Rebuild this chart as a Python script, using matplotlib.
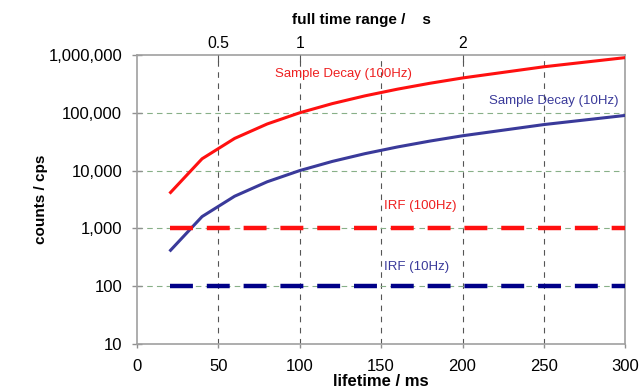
import matplotlib
matplotlib.use("Agg")
import matplotlib.pyplot as plt
from matplotlib.ticker import FuncFormatter, FixedLocator

plt.rcParams['font.family'] = ['Liberation Sans', 'DejaVu Sans']
plt.rcParams['lines.scale_dashes'] = False

# Data
lifetime_ms = [20, 40, 60, 80, 100, 120, 140, 160, 180, 200, 250, 300]
decay_100hz = [4000, 16000, 36000, 64000, 100000, 144000, 196000, 256000, 324000, 400000, 625000, 900000]
decay_10hz = [400, 1600, 3600, 6400, 10000, 14400, 19600, 25600, 32400, 40000, 62500, 90000]
irf_x = [20, 300]
irf_100hz = [1000, 1000]
irf_10hz = [100, 100]

x_ticks = [0, 50, 100, 150, 200, 250, 300]
y_ticks = [10, 100, 1000, 10000, 100000, 1000000]
top_tick_pos = [50, 100, 200]
top_tick_labels = ['0.5', '1', '2']

fig = plt.figure(figsize=(6.4, 3.89), dpi=100)
ax = fig.add_axes([0.214, 0.1157, 0.763, 0.743])

red = '#ff1010'
red_text = '#ee2020'
blue = '#3a3a9a'
navy = '#000088'

ax.plot(lifetime_ms, decay_100hz, color=red, lw=2.2, solid_capstyle='butt', zorder=5)
ax.plot(lifetime_ms, decay_10hz, color=blue, lw=2.2, solid_capstyle='butt', zorder=5)
ax.plot(irf_x, irf_100hz, color=red, lw=3.2, dashes=(16.5, 10), dash_capstyle='butt', zorder=5)
ax.plot(irf_x, irf_10hz, color=navy, lw=3.2, dashes=(16.5, 10), dash_capstyle='butt', zorder=5)

ax.set_yscale('log')
ax.set_xlim(0, 300)
ax.set_ylim(10, 1000000)
ax.set_xticks(x_ticks)
ax.yaxis.set_major_locator(FixedLocator(y_ticks))
ax.yaxis.set_minor_locator(FixedLocator([]))
ax.yaxis.set_major_formatter(FuncFormatter(lambda v, p: f'{int(round(v)):,}'))

# grids
for xv in x_ticks[1:]:
    ax.axvline(xv, color='#555555', lw=0.8, dashes=(4, 4), zorder=1)
for yv in y_ticks[1:-1]:
    ax.axhline(yv, color='#88b088', lw=0.8, dashes=(4, 3), zorder=1)

for s in ['left', 'bottom', 'top', 'right']:
    ax.spines[s].set_color('#a0a0a0')
    ax.spines[s].set_linewidth(1.2)

ax.tick_params(axis='y', which='major', labelsize=12, color='#909090', length=6.5,
               width=1, pad=7.5, direction='inout')
ax.tick_params(axis='x', which='major', labelsize=12, color='#909090', length=3,
               width=1, pad=8, direction='out')

ax.set_xlabel('lifetime / ms', fontsize=12, fontweight='bold', labelpad=0)
ax.set_ylabel('counts / cps', fontsize=11, fontweight='bold', labelpad=0)
ax.yaxis.set_label_coords(-0.183, 0.5)

ax2 = ax.twiny()
ax2.set_xlim(ax.get_xlim())
ax2.set_xticks(top_tick_pos)
ax2.set_xticklabels(top_tick_labels)
ax2.tick_params(axis='x', labelsize=11.3, direction='in', length=5, color='#555555', pad=3)
for s in ax2.spines.values():
    s.set_visible(False)

fig.text(361.5 / 640, 1 - 20 / 389, 'full time range /    s', fontsize=11,
         fontweight='bold', ha='center', va='center')

ax.text(127, 469000, 'Sample Decay (100Hz)', color=red_text, fontsize=9.5, ha='center', va='center')
ax.text(256, 160000, 'Sample Decay (10Hz)', color=blue, fontsize=9.5, ha='center', va='center')
ax.text(174, 2440, 'IRF (100Hz)', color=red_text, fontsize=9.5, ha='center', va='center')
ax.text(172, 215, 'IRF (10Hz)', color=blue, fontsize=9.5, ha='center', va='center')

fig.savefig('out.png', dpi=100)
